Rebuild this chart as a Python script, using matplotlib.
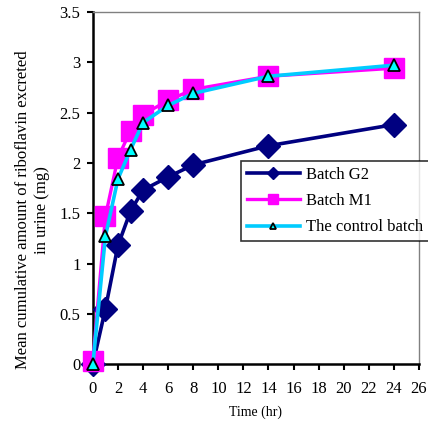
import numpy as np
from matplotlib import pyplot as plt

plt.rcParams['font.family'] = ['Liberation Serif', 'DejaVu Serif']

time_hr = [0, 1, 2, 3, 4, 6, 8, 14, 24]
batch_g2 = [0.0, 0.55, 1.18, 1.52, 1.73, 1.86, 1.98, 2.17, 2.38]
batch_m1 = [0.03, 1.47, 2.05, 2.32, 2.48, 2.62, 2.73, 2.86, 2.94]
control = [0.0, 1.27, 1.84, 2.13, 2.40, 2.57, 2.69, 2.86, 2.97]

fig = plt.figure(figsize=(4.28, 4.23), dpi=100)
ax = fig.add_axes([0.217, 0.139, 0.762, 0.833])

ax.plot(time_hr, batch_g2, color='#000080', lw=2.6, marker='D', ms=12,
        mfc='#000080', mec='#000080', label='Batch G2', zorder=3, clip_on=False)
ax.plot(time_hr, batch_m1, color='#ff00ff', lw=2.4, marker='s', ms=14.5,
        mfc='#ff00ff', mec='#ff00ff', label='Batch M1', zorder=4, clip_on=False)
ax.plot(time_hr, control, color='#00ccff', lw=2.6, marker='^', ms=9,
        mfc='#00ffff', mec='black', mew=1.3, label='The control batch', zorder=5,
        clip_on=False)

ax.set_xlim(0, 26)
ax.set_ylim(0, 3.5)
ax.set_xticks(np.arange(0, 27, 2))
ax.set_yticks(np.arange(0, 3.6, 0.5))
ax.set_yticklabels(['0', '0.5', '1', '1.5', '2', '2.5', '3', '3.5'])

for s in ['left', 'bottom']:
    ax.spines[s].set_linewidth(1.8)
    ax.spines[s].set_color('black')
for s in ['top', 'right']:
    ax.spines[s].set_linewidth(1.0)
    ax.spines[s].set_color('#808080')

ax.tick_params(axis='y', direction='out', width=1.5, length=4, labelsize=12, pad=5)
ax.tick_params(axis='x', direction='out', width=1.5, length=4, labelsize=12, pad=8)

ax.set_xlabel('Time (hr)', fontsize=10)
ax.xaxis.set_label_coords(0.5, -0.116)
ax.set_ylabel('Mean cumulative amount of riboflavin excreted\nin urine (mg)',
              fontsize=12, linespacing=1.25)
ax.yaxis.set_label_coords(-0.132, 0.4375)

leg = ax.legend(loc='upper left', bbox_to_anchor=(0.454, 0.577), fontsize=12,
                markerscale=0.5, frameon=True, fancybox=False, handlelength=3.2,
                borderpad=0.35, labelspacing=0.62, handletextpad=0.35,
                borderaxespad=0)
leg.get_frame().set_edgecolor('black')
leg.get_frame().set_linewidth(1.2)
leg.set_clip_on(False)
leg.set_zorder(6)

fig.savefig('out.png', dpi=100)
